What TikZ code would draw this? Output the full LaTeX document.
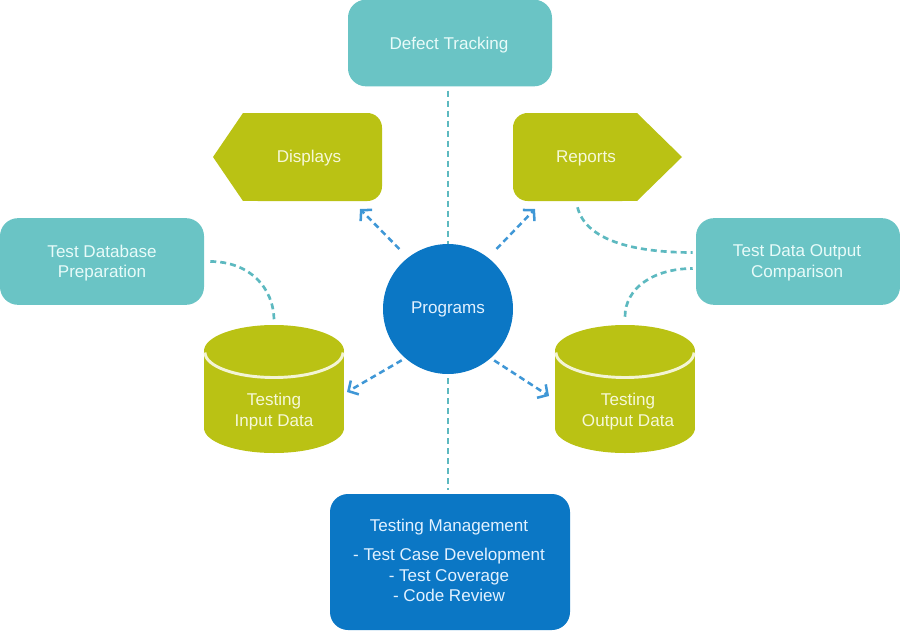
\documentclass[tikz,border=0pt]{standalone}
\usepackage{fontspec}
\setmainfont{Liberation Sans}
\usetikzlibrary{arrows.meta,calc}
\definecolor{teal1}{HTML}{6AC4C5}
\definecolor{olive1}{HTML}{BAC214}
\definecolor{blue1}{HTML}{0B77C5}
\definecolor{tealtxt}{HTML}{E8FBF9}
\definecolor{olivetxt}{HTML}{F6F8D8}
\definecolor{bluetxt}{HTML}{E2F1FF}
\definecolor{tealline}{HTML}{5DB9C0}
\definecolor{blueline}{HTML}{3F97D6}
\begin{document}
\begin{tikzpicture}[x=0.75pt,y=-0.75pt,
  every node/.style={font=\fontsize{12.8}{15.6}\selectfont},
  tealbox/.style={fill=teal1, rounded corners=13.5pt, text=tealtxt, align=center,
    minimum width=153pt, minimum height=65pt, inner sep=0pt},
  bluebox/.style={fill=blue1, rounded corners=13.5pt, text=bluetxt, align=center,
    minimum width=180pt, minimum height=102pt, inner sep=0pt},
  shapebox/.style={minimum width=#1, minimum height=66pt, inner sep=0pt},
  cylbox/.style={minimum width=105pt, minimum height=96pt, inner sep=0pt},
  olivetext/.style={text=olivetxt, align=center, inner sep=0pt},
  tealtext/.style={text=tealtxt, align=center, inner sep=0pt},
  tealdash/.style={draw=tealline, line width=2pt, dash pattern=on 4.5pt off 3pt},
  tealvert/.style={draw=tealline, line width=1.7pt, dash pattern=on 4.5pt off 3pt},
  bluearrow/.style={draw=blueline, line width=1.9pt, dash pattern=on 4.5pt off 3pt,
    -{Straight Barb[length=5.5pt,width=12pt]}},
  olivefill/.style={fill=olive1},
  stripe/.style={draw=white!82!olive1, line width=2.2pt}
]
\useasboundingbox (0,0) rectangle (900,632);

% ---- teal boxes
\node[tealbox] (dt) at (450,43) {};
\node[tealtext] (dttxt) at (449,45) {Defect Tracking};
\node[tealbox] (tdb) at (102,261.5) {};
\node[tealtext] (tdbtxt) at (102,263) {Test Database\\Preparation};
\node[tealbox] (tdo) at (798,261.5) {};
\node[tealtext] (tdotxt) at (797,263) {Test Data Output\\Comparison};

% ---- Displays (arrow pointing left)
\fill[olivefill] (213,157) -- (243,113) -- (243,201) -- cycle;
\fill[olivefill] (243,113) rectangle (330,201);
\fill[olivefill, rounded corners=11pt] (243,113) rectangle (382,201);
\node[shapebox=127pt] (disp) at (297.5,157) {};
\node[olivetext] (disptxt) at (309,158) {Displays};

% ---- Reports (arrow pointing right)
\fill[olivefill] (682,157) -- (637,113) -- (637,201) -- cycle;
\fill[olivefill] (560,113) rectangle (637,201);
\fill[olivefill, rounded corners=11pt] (513,113) rectangle (637,201);
\node[shapebox=127pt] (rep) at (597.5,157) {};
\node[olivetext] (reptxt) at (586,158) {Reports};

% ---- cylinders
\foreach \cx in {274,625}{
  \fill[olivefill] (\cx-70,351) rectangle (\cx+70,428);
  \fill[olivefill] (\cx,428) ellipse[x radius=70, y radius=25];
  \fill[olivefill] (\cx,351) ellipse[x radius=70, y radius=26];
  \draw[stripe] (\cx-69,352.5) arc[start angle=180, end angle=0, x radius=69, y radius=25];
}
\node[cylbox] (incyl) at (274,389) {};
\node[olivetext] (intxt) at (274,411.5) {Testing\\Input Data};
\node[cylbox] (outcyl) at (625,389) {};
\node[olivetext] (outtxt) at (628,411.5) {Testing\\Output Data};

% ---- Programs
\node[circle, fill=blue1, minimum size=97.5pt, inner sep=0pt, text=bluetxt] (prog) at (448,309) {Programs};

% ---- Testing Management
\node[bluebox] (tm) at (450,562) {};
\node[text=bluetxt, align=center, inner sep=0pt] (tmtxt) at (449,560.5) {Testing Management\\[6pt]- Test Case Development\\- Test Coverage\\- Code Review};

% ---- connectors
\coordinate (dispTip) at (360,209);
\coordinate (repTip) at (535,209);
\coordinate (inTip) at (347,392);
\coordinate (outTip) at (549,396);

\draw[tealvert, shorten <=3pt] (prog.north |- dt.south) -- (prog.north);
\draw[tealvert, shorten <=3pt, shorten >=3pt] (prog.south) -- (prog.south |- tm.north);

\draw[bluearrow, shorten <=9pt] (prog.128) -- (dispTip);
\draw[bluearrow, shorten <=9pt] (prog.52) -- (repTip);
\draw[bluearrow, shorten <=3pt] (prog.229) -- (inTip);
\draw[bluearrow, shorten <=3pt] (prog.311) -- (outTip);

\draw[tealdash] ($(tdb.east)+(6,0)$) .. controls +(38,0) and +(0,-34) .. ($(incyl.north)+(0,-4)$);
\draw[tealdash] ($(rep.south)+(-20,6)$) .. controls +(8,32) and +(-62,0) .. ($(tdo.west)+(-3,-9)$);
\draw[tealdash] ($(outcyl.north)+(0,-8)$) .. controls +(0,-28) and +(-40,0) .. ($(tdo.west)+(-3,7)$);
\end{tikzpicture}
\end{document}
